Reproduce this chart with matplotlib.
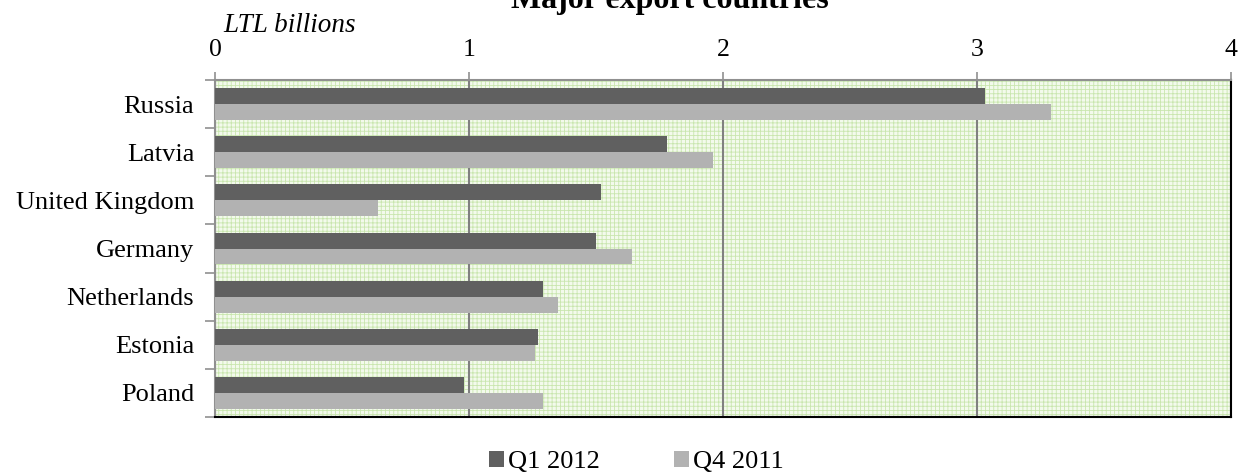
import matplotlib
matplotlib.use('Agg')
import matplotlib.pyplot as plt
import matplotlib.patches as patches
import numpy as np

# data
countries = ['Russia', 'Latvia', 'United Kingdom', 'Germany', 'Netherlands', 'Estonia', 'Poland']
q1_2012 = [3.03, 1.78, 1.52, 1.50, 1.29, 1.27, 0.98]
q4_2011 = [3.29, 1.96, 0.64, 1.64, 1.35, 1.26, 1.29]
series_names = ['Q1 2012', 'Q4 2011']
x_ticks = [0, 1, 2, 3, 4]

plt.rcParams['font.family'] = ['Liberation Serif', 'DejaVu Serif']
plt.rcParams['hatch.linewidth'] = 0.6

fig = plt.figure(figsize=(12.39, 4.74), dpi=100)
ax = fig.add_axes([215 / 1239, 1 - 417 / 474, 1016 / 1239, 337 / 474])

# hatched green background
bg = patches.Rectangle((0, 0), 1, 1, transform=ax.transAxes, facecolor='#f3faec',
                       edgecolor='#c9e6ae', hatch='++++', linewidth=0, zorder=0)
ax.add_patch(bg)

y = np.arange(len(countries))
h = 0.33
ax.barh(y - h / 2, q1_2012, height=h, color='#606060', label=series_names[0], zorder=3)
ax.barh(y + h / 2, q4_2011, height=h, color='#b2b2b2', label=series_names[1], zorder=3)

ax.set_xlim(0, 4)
ax.set_ylim(len(countries) - 0.5, -0.5)
ax.set_xticks(x_ticks)
ax.set_xticklabels([str(t) for t in x_ticks])
ax.xaxis.tick_top()
ax.tick_params(axis='x', direction='out', length=6, width=1.2, color='#909090',
               labelsize=18.5, pad=8)
ax.grid(axis='x', color='#808080', linewidth=1.5, zorder=2)

ax.set_yticks(y)
ax.set_yticklabels(countries, fontsize=19)
ax.set_yticks(np.arange(-0.5, len(countries)), minor=True)
ax.tick_params(axis='y', which='major', length=0, pad=15)
ax.tick_params(axis='y', which='minor', length=7, width=1.2, color='#909090')

for side in ['left', 'top']:
    ax.spines[side].set_color('#909090')
    ax.spines[side].set_linewidth(1.5)
for side in ['right', 'bottom']:
    ax.spines[side].set_color('black')
    ax.spines[side].set_linewidth(1.5)

# title sits partly above the canvas, as in the original export
fig.text(670 / 1239, 1 - 8 / 474, 'Major export countries', ha='center', va='baseline',
         fontsize=23, fontweight='bold')
fig.text(223 / 1239, 1 - 32 / 474, 'LTL billions', ha='left', va='baseline',
         fontsize=19.5, style='italic')

fig.legend(loc='center', bbox_to_anchor=(636 / 1239, 1 - 462 / 474), ncol=2, frameon=False,
           fontsize=19, handlelength=0.57, handleheight=0.57, handletextpad=0.15,
           columnspacing=2.8)

fig.savefig('out.png', dpi=100)
